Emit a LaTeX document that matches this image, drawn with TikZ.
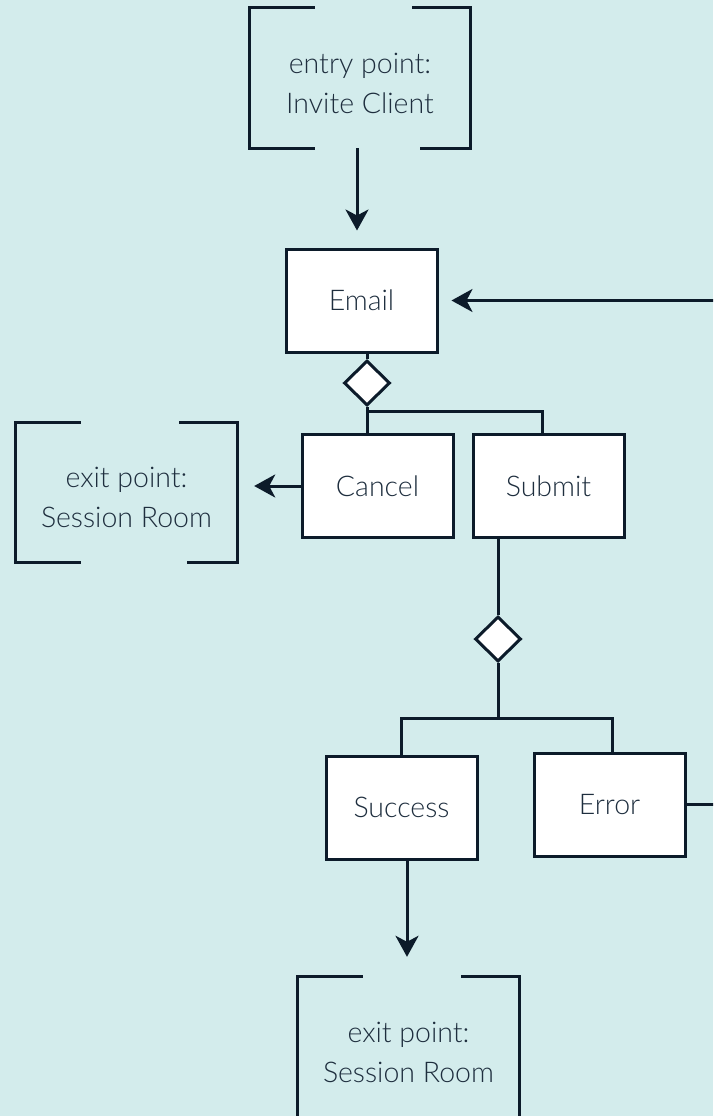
\documentclass[tikz,border=0pt]{standalone}
\usepackage{fontspec}
\setmainfont{Lato Light}
\usetikzlibrary{shapes.geometric,arrows.meta}

\definecolor{bgteal}{RGB}{211,236,236}
\definecolor{ink}{RGB}{12,27,42}
\definecolor{txt}{RGB}{30,46,62}

\tikzset{
  flow/.style={line width=3pt, draw=ink},
  state/.style={flow, fill=white, rectangle, inner sep=0pt,
    minimum width=151pt, minimum height=103pt,
    font=\fontsize{28.5}{40}\selectfont, text=txt},
  choice/.style={flow, fill=white, diamond, aspect=1, inner sep=0pt,
    minimum width=46pt, minimum height=45pt},
  portal/.style={rectangle, inner sep=0pt, minimum width=221pt,
    minimum height=140pt},
  portaltext/.style={inner sep=0pt, align=center,
    font=\fontsize{28.5}{40}\selectfont, text=txt},
  bracketline/.style={flow, line cap=rect},
  tip/.style={flow, -{Stealth[length=21pt, width=23pt, inset=6pt]}},
}

% open-ended frame round a portal node, with its caption
\newcommand{\portalframe}[2]{%
  \draw[bracketline] ([xshift=64pt]#1.north west) -- (#1.north west)
    -- (#1.south west) -- ([xshift=64pt]#1.south west);
  \draw[bracketline] ([xshift=-57pt]#1.north east) -- (#1.north east)
    -- (#1.south east) -- ([xshift=-49pt]#1.south east);
  \node[portaltext] (#1-text) at ([yshift=-5pt]#1.center) {#2};
}

\begin{document}
\begin{tikzpicture}[x=1pt, y=-1pt]
  \fill[bgteal] (0,0) rectangle (713,1116);
  \clip (0,0) rectangle (713,1116);

  % entry and exit portals
  \node[portal] (entry) at (360,78) {};
  \node[portal] (exitA) at (126.5,492.5) {};
  \node[portal] (exitB) at (408.5,1047) {};
  \portalframe{entry}{entry point:\\Invite Client}
  \portalframe{exitA}{exit point:\\Session Room}
  \portalframe{exitB}{exit point:\\Session Room}

  % states
  \node[state] (email)   at (361.5,300.5) {Email};
  \node[state] (cancel)  at (377.5,486)   {Cancel};
  \node[state] (submit)  at (548.5,486)   {Submit};
  \node[state] (success) at (401.5,807.5) {Success};
  \node[state] (error)   at (609.5,804.5) {Error};

  % decisions
  \node[choice] (dA) at (367,383) {};
  \node[choice] (dB) at (498,639) {};

  % helper points for the branch bars
  \coordinate (barA) at (367,411);
  \coordinate (subIn) at (542,411);
  \coordinate (barB) at (498,718);
  \coordinate (sucIn) at (401,718);
  \coordinate (errIn) at (612,718);
  \coordinate (sucOut) at (407,0);
  \coordinate (loopR) at (735,0);

  % entry into the email step
  \draw[tip, shorten >=17pt] (entry.south -| 357,0) -- (357,0 |- email.north);

  % email decision
  \draw[flow] (dA.north) -- (dA.north |- email.south);
  \draw[flow] (dA.south) -- (dA.south |- cancel.north);
  \draw[flow] (barA) -- (subIn) -- (subIn |- submit.north);

  % cancel leaves through the first exit
  \draw[tip, shorten >=17pt] (cancel.west) -- (cancel.west -| exitA.east);

  % submit decision
  \draw[flow] (dB.north) -- (dB.north |- submit.south);
  \draw[flow] (dB.south) -- (barB);
  \draw[flow] (sucIn |- success.north) -- (sucIn) -- (errIn) -- (errIn |- error.north);

  % success leaves through the second exit
  \draw[tip, shorten >=20pt] (sucOut |- success.south) -- (sucOut |- exitB.north);

  % error loops back to the email step
  \draw[tip, shorten >=13pt] (error.east) -- (error.east -| loopR)
    -- (loopR |- email.east) -- (email.east);
\end{tikzpicture}
\end{document}
